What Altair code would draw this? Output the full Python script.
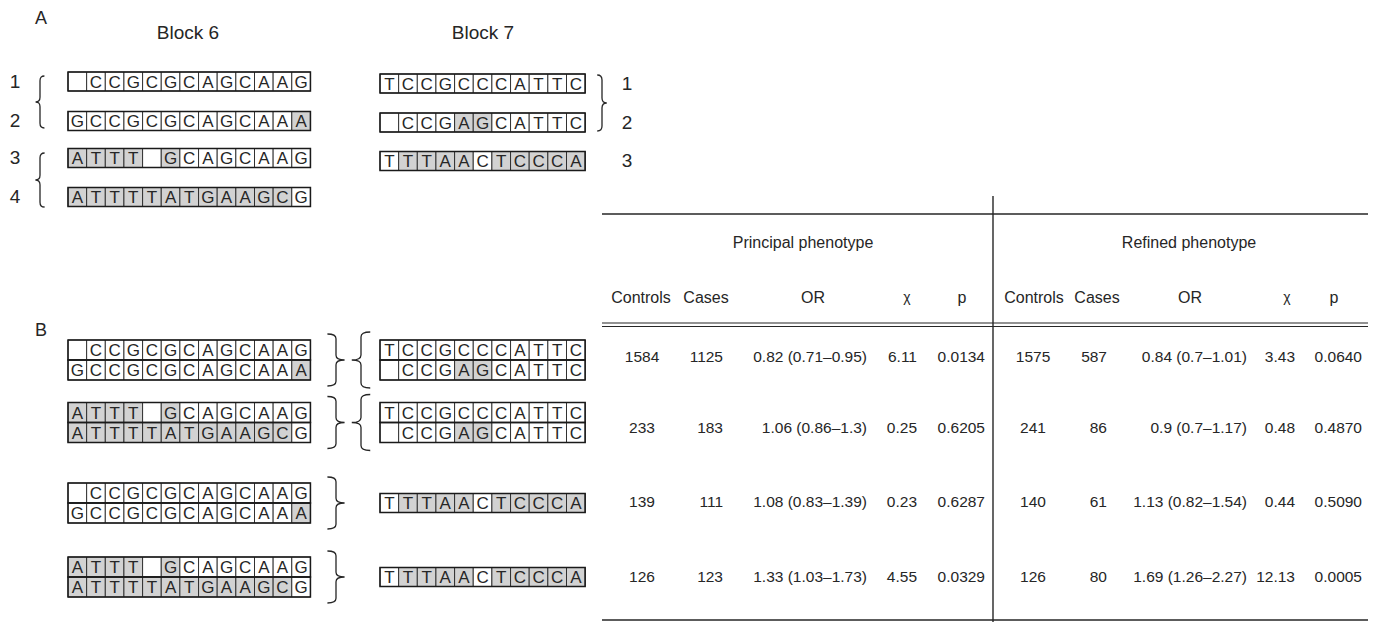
import altair as alt
import pandas as pd

# ---------------- data ----------------
block6_haplotypes = [" CCGCGCAGCAAG", "GCCGCGCAGCAAA", "ATTT GCAGCAAG", "ATTTTATGAAGCG"]
block6_shaded = ["0000000000000", "0000000000001", "1111010000000", "1111111111110"]
block7_haplotypes = ["TCCGCCCATTC", " CCGAGCATTC", "TTTAACTCCCA"]
block7_shaded = ["00000000000", "00001100000", "01111011111"]
block6_labels = ["1", "2", "3", "4"]
block7_labels = ["1", "2", "3"]
block_titles = ["Block 6", "Block 7"]
panel_letters = ["A", "B"]

# haplotype combinations in panel B (indices into the haplotype lists)
combo_block6 = [[0, 1], [2, 3], [0, 1], [2, 3]]
combo_block7 = [[0, 1], [0, 1], [2], [2]]

phenotypes = ["Principal phenotype", "Refined phenotype"]
column_names = ["Controls", "Cases", "OR", "χ", "p"]

principal_controls = ["1584", "233", "139", "126"]
principal_cases = ["1125", "183", "111", "123"]
principal_or = ["0.82 (0.71–0.95)", "1.06 (0.86–1.3)", "1.08 (0.83–1.39)", "1.33 (1.03–1.73)"]
principal_chi = ["6.11", "0.25", "0.23", "4.55"]
principal_p = ["0.0134", "0.6205", "0.6287", "0.0329"]

refined_controls = ["1575", "241", "140", "126"]
refined_cases = ["587", "86", "61", "80"]
refined_or = ["0.84 (0.7–1.01)", "0.9 (0.7–1.17)", "1.13 (0.82–1.54)", "1.69 (1.26–2.27)"]
refined_chi = ["3.43", "0.48", "0.44", "12.13"]
refined_p = ["0.0640", "0.4870", "0.5090", "0.0005"]

# ---------------- layout (pixel frame of the figure) ----------------
W, H = 1362, 614
CELL_W = 18.65
B6_X, B7_X = 68, 380
GRAY = "#d2d2d2"
INK = "#262626"
FONT = "Liberation Sans"

a_b6_y = [81.5, 121, 158, 197]
a_b7_y = [83.5, 122.5, 161]
b_pair_y = [360, 422.5, 503, 577]
table_row_y = [357, 428, 502, 577]

cells, boxes = [], []


def add_row(seq, shade, x0, yc, h):
    for i, (ch, s) in enumerate(zip(seq, shade)):
        cells.append(dict(x=x0 + i * CELL_W, x2=x0 + (i + 1) * CELL_W,
                          y=yc - h / 2, y2=yc + h / 2,
                          fill=GRAY if s == "1" else "#ffffff",
                          letter=ch.strip(), cx=x0 + (i + 0.5) * CELL_W, cy=yc))
    boxes.append(dict(x=x0, x2=x0 + len(seq) * CELL_W, y=yc - h / 2, y2=yc + h / 2))


# panel A
for k, yc in enumerate(a_b6_y):
    add_row(block6_haplotypes[k], block6_shaded[k], B6_X, yc, 19)
for k, yc in enumerate(a_b7_y):
    add_row(block7_haplotypes[k], block7_shaded[k], B7_X, yc, 19)

# panel B
for p, yc in enumerate(b_pair_y):
    hs = combo_block6[p]
    for j, h in enumerate(hs):
        add_row(block6_haplotypes[h], block6_shaded[h], B6_X, yc - 10 + j * 20, 20)
    hs7 = combo_block7[p]
    if len(hs7) == 2:
        for j, h in enumerate(hs7):
            add_row(block7_haplotypes[h], block7_shaded[h], B7_X, yc - 10 + j * 20, 20)
    else:
        add_row(block7_haplotypes[hs7[0]], block7_shaded[hs7[0]], B7_X, yc, 19)

cells_df = pd.DataFrame(cells)
boxes_df = pd.DataFrame(boxes)

# texts
texts_c, texts_r = [], []
texts_c.append(dict(x=41, y=19, t=panel_letters[0], s=18))
texts_c.append(dict(x=41, y=331, t=panel_letters[1], s=18))
texts_c.append(dict(x=188, y=33, t=block_titles[0], s=19))
texts_c.append(dict(x=483, y=33, t=block_titles[1], s=19))
for lab, yc in zip(block6_labels, a_b6_y):
    texts_c.append(dict(x=15, y=yc, t=lab, s=19))
for lab, yc in zip(block7_labels, a_b7_y):
    texts_c.append(dict(x=627, y=yc, t=lab, s=19))

texts_c.append(dict(x=803, y=243, t=phenotypes[0], s=16))
texts_c.append(dict(x=1189, y=243, t=phenotypes[1], s=16))
head_x = [[641, 706, 813, 907, 962], [1034, 1097, 1190, 1287, 1334]]
for side in range(2):
    for name, hx in zip(column_names, head_x[side]):
        texts_c.append(dict(x=hx, y=298, t=name, s=16 if name != "χ" else 14))

tables = [
    (principal_controls, principal_cases, principal_or, principal_chi, principal_p),
    (refined_controls, refined_cases, refined_or, refined_chi, refined_p),
]
ctrl_center = [642, 1033]
right_edges = [[723, 867, 917, 985], [1107, 1247, 1295, 1362]]
for side in range(2):
    ctrl, cases, orv, chi, pv = tables[side]
    for r, yc in enumerate(table_row_y):
        texts_c.append(dict(x=ctrl_center[side], y=yc, t=ctrl[r], s=15.5))
        for col, re in zip([cases, orv, chi, pv], right_edges[side]):
            texts_r.append(dict(x=re, y=yc, t=col[r], s=15.5))

texts_c_df = pd.DataFrame(texts_c)
texts_r_df = pd.DataFrame(texts_r)

# table rules
rules = pd.DataFrame([
    dict(x=602, x2=1368, y=214, y2=214, w=1.4),
    dict(x=602, x2=1368, y=323, y2=323, w=1.2),
    dict(x=602, x2=1368, y=326.5, y2=326.5, w=1.2),
    dict(x=602, x2=1368, y=620, y2=620, w=1.4),
    dict(x=993, x2=993, y=196, y2=640, w=1.4),
])

# braces: centres (spine) and heights
brace_right = pd.DataFrame([dict(x=602, y=103, h=56)])
brace_left_a = pd.DataFrame([
    dict(x=40, y=102, h=52),
    dict(x=40, y=180, h=54),
])
brace_right_b = pd.DataFrame([dict(x=336, y=yc, h=52) for yc in b_pair_y])
brace_left_b = pd.DataFrame([dict(x=361, y=yc, h=56) for yc in b_pair_y[:2]])
for df in (brace_right, brace_left_a, brace_right_b, brace_left_b):
    df["size"] = df["h"] ** 2


def brace_path(w, direction):
    d = direction  # +1 tip to the right, -1 tip to the left
    e, t = -d * w, d * w
    return (f"M {e} -1 Q 0 -1 0 -0.82 L 0 -0.18 Q 0 0 {t} 0 "
            f"Q 0 0 0 0.18 L 0 0.82 Q 0 1 {e} 1")


xs = alt.Scale(domain=[8, 8 + W], nice=False, zero=False)
ys = alt.Scale(domain=[8 + H, 8], nice=False, zero=False)

X = lambda f: alt.X(f"{f}:Q", scale=xs, axis=None)
Y = lambda f: alt.Y(f"{f}:Q", scale=ys, axis=None)

cell_layer = alt.Chart(cells_df).mark_rect(stroke=INK, strokeWidth=0.9).encode(
    x=X("x"), x2="x2", y=Y("y"), y2="y2",
    fill=alt.Fill("fill:N", scale=None),
)
box_layer = alt.Chart(boxes_df).mark_rect(fillOpacity=0, stroke="#1a1a1a", strokeWidth=1.5).encode(
    x=X("x"), x2="x2", y=Y("y"), y2="y2",
)
letter_layer = alt.Chart(cells_df).mark_text(
    font=FONT, fontSize=17, color=INK, align="center", baseline="middle", dy=1
).encode(x=X("cx"), y=Y("cy"), text="letter:N")

text_c_layer = alt.Chart(texts_c_df).mark_text(
    font=FONT, color=INK, align="center", baseline="middle"
).encode(x=X("x"), y=Y("y"), text="t:N", size=alt.Size("s:Q", scale=None))
text_r_layer = alt.Chart(texts_r_df).mark_text(
    font=FONT, color=INK, align="right", baseline="middle"
).encode(x=X("x"), y=Y("y"), text="t:N", size=alt.Size("s:Q", scale=None))

rule_layer = alt.Chart(rules).mark_rule(color=INK).encode(
    x=X("x"), x2="x2", y=Y("y"), y2="y2",
    strokeWidth=alt.StrokeWidth("w:Q", scale=None),
)


def brace_layer(df, w, direction):
    return alt.Chart(df).mark_point(
        shape=brace_path(w, direction), filled=False, stroke=INK,
        strokeWidth=1.3, opacity=1
    ).encode(x=X("x"), y=Y("y"), size=alt.Size("size:Q", scale=None))


chart = alt.layer(
    cell_layer, box_layer, letter_layer, rule_layer,
    brace_layer(brace_right, 0.17, 1),
    brace_layer(brace_left_a, 0.17, -1),
    brace_layer(brace_right_b, 0.33, 1),
    brace_layer(brace_left_b, 0.33, -1),
    text_c_layer, text_r_layer,
).properties(
    width=W, height=H, padding=0, autosize=alt.AutoSizeParams(type="none"),
    background="white",
).configure_view(stroke=None)

chart.save("out.html", embed_options={"renderer": "svg", "actions": False})
